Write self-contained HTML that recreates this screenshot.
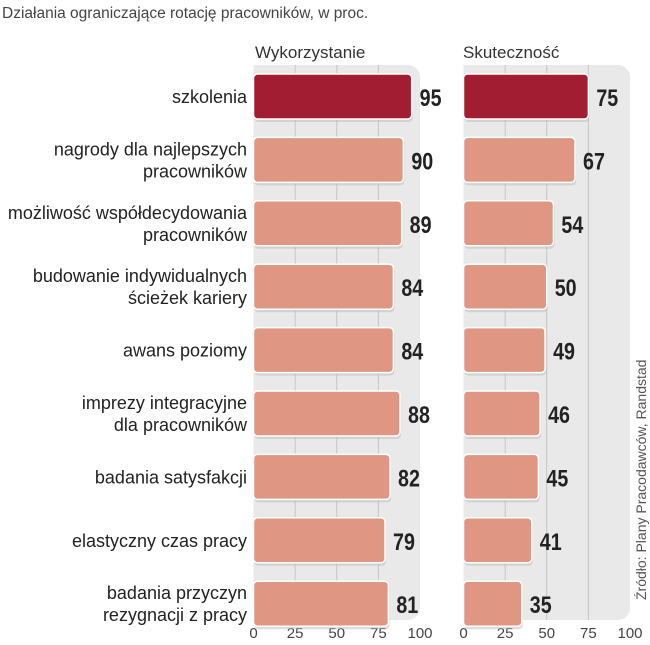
<!DOCTYPE html>
<html><head><meta charset="utf-8"><style>
body{margin:0;background:#fff;width:650px;height:640px;overflow:hidden;font-family:"Liberation Sans",sans-serif}
</style></head><body>
<svg width="650" height="640" id="c">
<text x="2" y="18" font-size="15.5" fill="#444">Działania ograniczające rotację pracowników, w proc.</text>
<text x="255" y="58" font-size="17" fill="#333">Wykorzystanie</text>
<text x="463" y="58" font-size="17" fill="#333">Skuteczność</text>
<text transform="translate(646,600) rotate(-90)" font-size="14" fill="#555">Źródło: Plany Pracodawców, Randstad</text>
</svg>
<script>
const categories=[["szkolenia"],["nagrody dla najlepszych","pracowników"],["możliwość współdecydowania","pracowników"],["budowanie indywidualnych","ścieżek kariery"],["awans poziomy"],["imprezy integracyjne","dla pracowników"],["badania satysfakcji"],["elastyczny czas pracy"],["badania przyczyn","rezygnacji z pracy"]];
const usage=[95,90,89,84,84,88,82,79,81];
const effectiveness=[75,67,54,50,49,46,45,41,35];
const ticks=[0,25,50,75,100];
const svg=document.getElementById('c');
const NS='http://www.w3.org/2000/svg';
function mk(t,a){const e=document.createElementNS(NS,t);for(const k in a)e.setAttribute(k,a[k]);svg.appendChild(e);return e;}
const rowY=i=>97+i*63.4;
const panels=[{x0:253.5,vals:usage,name:'usage'},{x0:463.5,vals:effectiveness,name:'effectiveness'}];
const W=166.5;
panels.forEach(p=>{
  const sx=v=>p.x0+v/100*W;
  let bg=mk('rect',{x:p.x0,y:65,width:W,height:555,rx:12,fill:'#e9e9e9'});
  
  
  mk('rect',{x:p.x0,y:65,width:20,height:555,fill:'#e9e9e9'});
  ticks.forEach(t=>{
    if(t>0&&t<100){let l=mk('line',{x1:sx(t),x2:sx(t),y1:65,y2:620,stroke:'#c4c4c4','stroke-width':1});
    
    }
    let tx=mk('text',{x:sx(t),y:638,'text-anchor':'middle','font-size':15,fill:'#444'});
    tx.textContent=t;
    
    
  });
  p.vals.forEach((v,i)=>{
    const y=rowY(i);
    mk('rect',{x:p.x0+1,y:y-21,width:sx(v)-p.x0,height:46,rx:4,fill:'#bbb',opacity:0.5});
    let r=mk('rect',{x:p.x0,y:y-23,width:sx(v)-p.x0,height:45,rx:4,fill:i==0?'#a21d32':'#df9683',stroke:'#fff','stroke-width':1.5});
    
    
    let t=mk('text',{x:sx(v)+8,y:y+9,'font-size':24,'font-weight':'bold',fill:'#222',transform:`translate(${sx(v)+8},0) scale(0.82,1) translate(${-(sx(v)+8)},0)`});
    t.textContent=v;
    
    
  });
});
categories.forEach((c,i)=>{
  const y=rowY(i);
  c.forEach((line,j)=>{
    const ty=y+6+(j-(c.length-1)/2)*22;
    let t=mk('text',{x:247,y:ty,'text-anchor':'end','font-size':18,fill:'#222'});
    t.textContent=line;
    
    
  });
});
</script>
</body></html>
